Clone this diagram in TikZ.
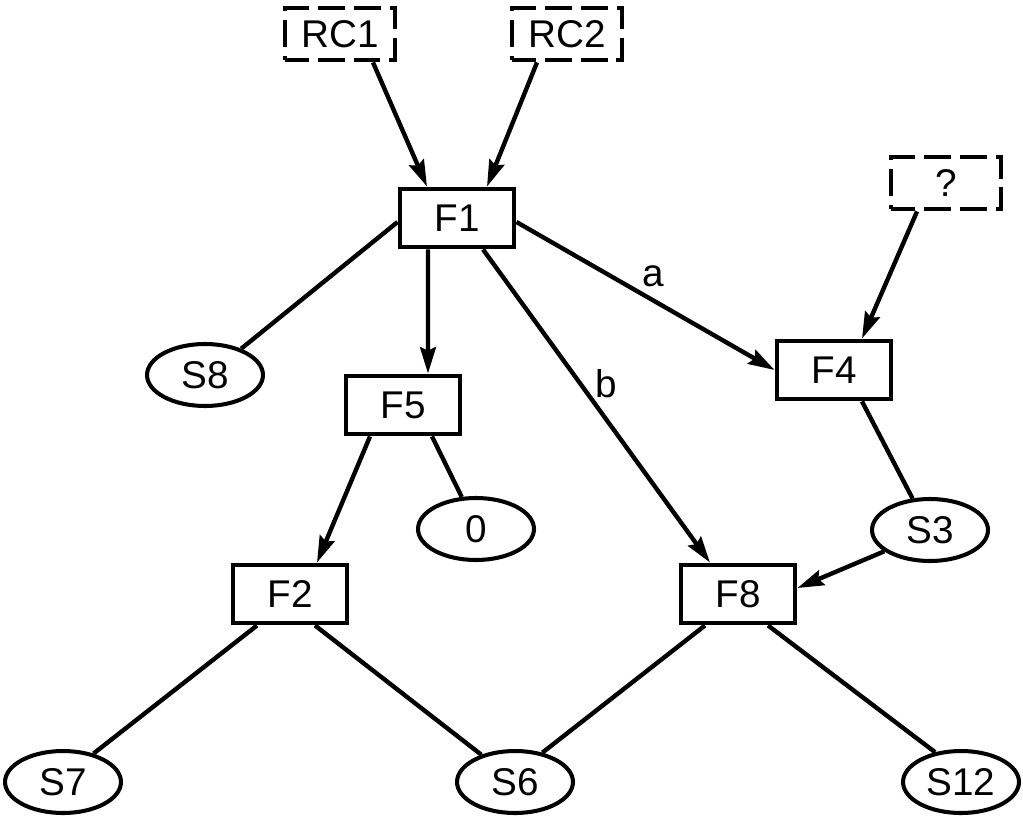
\documentclass[tikz,border=0pt]{standalone}
\usepackage{fontspec}
\setmainfont{Liberation Sans}
\usetikzlibrary{positioning,shapes.geometric,arrows.meta}
\tikzset{
  funcNode/.style={rectangle, draw, line width=2.8pt, minimum width=2.28cm, minimum height=1.16cm, inner sep=0pt},
  stateNode/.style={ellipse, draw, line width=2.3pt, minimum width=2.32cm, minimum height=1.24cm, inner sep=0pt},
%  extNode: dashes sized so every corner falls inside a dash
  extNode/.style={rectangle, draw, line width=2.8pt, dash pattern=on 0.54cm off 0.18cm, dash phase=0.07cm, minimum width=2.2cm, minimum height=1.04cm, inner sep=0pt},
  applyOp/.style={line width=2.5pt, -{Stealth[length=15pt,width=9pt,inset=2pt]}},
  link/.style={line width=2.5pt}
}

\begin{document}
\begin{tikzpicture}[x=0.02cm, y=-0.02cm, font=\fontsize{22}{26}\selectfont]
  \useasboundingbox (0,0) rectangle (1023,817);
  % inputs
  \node [extNode] (rc1) at (340,34) {RC1};
  \node [extNode] (rc2) at (567,34) {RC2};
  \node [extNode] (unk) at (946,183) {?};
  % functions
  \node [funcNode] (f1) at (457,218) {F1};
  \node [funcNode] (f4) at (834,370) {F4};
  \node [funcNode] (f5) at (403,405) {F5};
  \node [funcNode] (f2) at (290,594) {F2};
  \node [funcNode] (f8) at (738,594) {F8};
  % states
  \node [stateNode] (s8) at (205,375) {S8};
  \node [stateNode] (zero) at (476,529) {0};
  \node [stateNode] (s3) at (930,530) {S3};
  \node [stateNode] (s7) at (63,782) {S7};
  \node [stateNode] (s6) at (515,782) {S6};
  \node [stateNode] (s12) at (961,782) {S12};

  \draw [applyOp] ([xshift=0.66cm]rc1.south) -- ([xshift=-0.6cm]f1.north);
  \draw [applyOp] ([xshift=-0.6cm]rc2.south) -- ([xshift=0.6cm]f1.north);
  \draw [applyOp] ([xshift=-0.58cm]unk.south) -- ([xshift=0.56cm]f4.north);
  \draw [link] ([yshift=-0.08cm]f1.west) -- (s8.36);
  \draw [applyOp] ([xshift=-0.58cm]f1.south) -- ([xshift=0.5cm]f5.north);
  \draw [applyOp] ([yshift=-0.08cm]f1.east) -- node [pos=0.53, above=3pt] (la) {a} (f4.west);
  \draw [applyOp] ([xshift=0.52cm]f1.south) -- node [pos=0.43, right=4pt] (lb) {b} ([xshift=-0.56cm]f8.north);
  \draw [link] ([xshift=0.56cm]f4.south) -- (s3.119);
  \draw [applyOp] (s3.205) -- ([yshift=0.12cm]f8.east);
  \draw [applyOp] ([xshift=-0.66cm]f5.south) -- ([xshift=0.54cm]f2.north);
  \draw [link] ([xshift=0.58cm]f5.south) -- (zero.114);
  \draw [link] ([xshift=-0.66cm]f2.south) -- (s7.43);
  \draw [link] ([xshift=0.5cm]f2.south) -- (s6.141);
  \draw [link] ([xshift=-0.66cm]f8.south) -- (s6.47);
  \draw [link] ([xshift=0.6cm]f8.south) -- (s12.131);
\end{tikzpicture}
\end{document}
